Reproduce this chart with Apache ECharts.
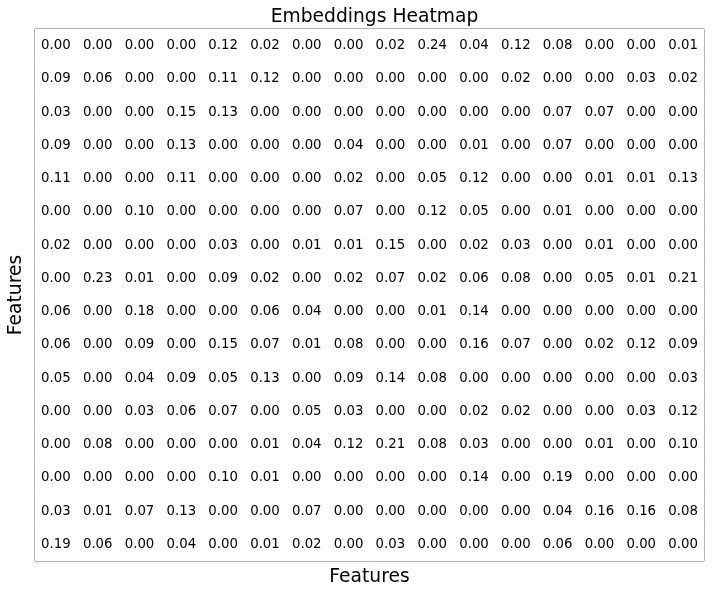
<!DOCTYPE html>
<html>
<head>
<meta charset="utf-8">
<script src="https://cdn.jsdelivr.net/npm/echarts@6/dist/echarts.min.js"></script>
<style>
  html, body { margin: 0; padding: 0; background: #fff; }
  #main { width: 712px; height: 595px; }
</style>
</head>
<body>
<div id="main"></div>
<script>
// 行列标签
var colLabels = ['0','1','2','3','4','5','6','7','8','9','10','11','12','13','14','15'];
var rowLabels = ['0','1','2','3','4','5','6','7','8','9','10','11','12','13','14','15'];

// 每行数值（从上到下）
var row0  = [0.00,0.00,0.00,0.00,0.12,0.02,0.00,0.00,0.02,0.24,0.04,0.12,0.08,0.00,0.00,0.01];
var row1  = [0.09,0.06,0.00,0.00,0.11,0.12,0.00,0.00,0.00,0.00,0.00,0.02,0.00,0.00,0.03,0.02];
var row2  = [0.03,0.00,0.00,0.15,0.13,0.00,0.00,0.00,0.00,0.00,0.00,0.00,0.07,0.07,0.00,0.00];
var row3  = [0.09,0.00,0.00,0.13,0.00,0.00,0.00,0.04,0.00,0.00,0.01,0.00,0.07,0.00,0.00,0.00];
var row4  = [0.11,0.00,0.00,0.11,0.00,0.00,0.00,0.02,0.00,0.05,0.12,0.00,0.00,0.01,0.01,0.13];
var row5  = [0.00,0.00,0.10,0.00,0.00,0.00,0.00,0.07,0.00,0.12,0.05,0.00,0.01,0.00,0.00,0.00];
var row6  = [0.02,0.00,0.00,0.00,0.03,0.00,0.01,0.01,0.15,0.00,0.02,0.03,0.00,0.01,0.00,0.00];
var row7  = [0.00,0.23,0.01,0.00,0.09,0.02,0.00,0.02,0.07,0.02,0.06,0.08,0.00,0.05,0.01,0.21];
var row8  = [0.06,0.00,0.18,0.00,0.00,0.06,0.04,0.00,0.00,0.01,0.14,0.00,0.00,0.00,0.00,0.00];
var row9  = [0.06,0.00,0.09,0.00,0.15,0.07,0.01,0.08,0.00,0.00,0.16,0.07,0.00,0.02,0.12,0.09];
var row10 = [0.05,0.00,0.04,0.09,0.05,0.13,0.00,0.09,0.14,0.08,0.00,0.00,0.00,0.00,0.00,0.03];
var row11 = [0.00,0.00,0.03,0.06,0.07,0.00,0.05,0.03,0.00,0.00,0.02,0.02,0.00,0.00,0.03,0.12];
var row12 = [0.00,0.08,0.00,0.00,0.00,0.01,0.04,0.12,0.21,0.08,0.03,0.00,0.00,0.01,0.00,0.10];
var row13 = [0.00,0.00,0.00,0.00,0.10,0.01,0.00,0.00,0.00,0.00,0.14,0.00,0.19,0.00,0.00,0.00];
var row14 = [0.03,0.01,0.07,0.13,0.00,0.00,0.07,0.00,0.00,0.00,0.00,0.00,0.04,0.16,0.16,0.08];
var row15 = [0.19,0.06,0.00,0.04,0.00,0.01,0.02,0.00,0.03,0.00,0.00,0.00,0.06,0.00,0.00,0.00];

var rows = [row0,row1,row2,row3,row4,row5,row6,row7,row8,row9,row10,row11,row12,row13,row14,row15];

var data = [];
rows.forEach(function (r, i) {
    r.forEach(function (v, j) {
        data.push([j, i, v]);
    });
});

var myChart = echarts.init(document.getElementById('main'));
var font = 'DejaVu Sans';
var option = {
    backgroundColor: '#fff',
    animation: false,
    title: {
        text: 'Embeddings Heatmap',
        left: 369.5,
        textAlign: 'center',
        top: 3,
        textStyle: { fontFamily: font, fontSize: 18.7, fontWeight: 'normal', color: '#000' }
    },
    grid: {
        left: 35, top: 29, right: 8, bottom: 34,
        outerBoundsMode: 'none',
        containLabel: false,
        show: true,
        borderColor: '#333',
        borderWidth: 1,
        backgroundColor: '#fff'
    },
    xAxis: {
        type: 'category',
        data: colLabels,
        name: 'Features',
        nameLocation: 'middle',
        nameGap: 7,
        nameTextStyle: { fontFamily: font, fontSize: 18.7, color: '#000' },
        axisLine: { show: false },
        axisTick: { show: false },
        axisLabel: { show: false },
        splitLine: { show: false }
    },
    yAxis: {
        type: 'category',
        data: rowLabels,
        inverse: true,
        name: 'Features',
        nameLocation: 'middle',
        nameGap: 9,
        nameTextStyle: { fontFamily: font, fontSize: 18.7, color: '#000' },
        axisLine: { show: false },
        axisTick: { show: false },
        axisLabel: { show: false },
        splitLine: { show: false }
    },
    series: [{
        type: 'heatmap',
        data: data,
        itemStyle: { color: '#fff' },
        label: {
            show: true,
            fontFamily: font,
            fontSize: 13.3,
            color: '#000',
            formatter: function (p) { return p.value[2].toFixed(2); }
        },
        emphasis: { disabled: true }
    }]
};
myChart.setOption(option);
</script>
</body>
</html>
